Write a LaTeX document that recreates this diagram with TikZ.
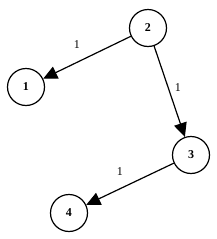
\documentclass[tikz,border=0pt]{standalone}
\usepackage{fontspec}
\setmainfont{Liberation Serif}
\usetikzlibrary{arrows.meta}
\begin{document}
\begin{tikzpicture}[x=1pt,y=-1pt,
  vertex/.style={draw,circle,line width=1.2pt,minimum size=37pt,inner sep=0pt,font=\bfseries\fontsize{12}{12}\selectfont},
  edge/.style={line width=1.2pt,-{Triangle[length=14pt,width=13pt]}},
  wlabel/.style={font=\fontsize{12}{12}\selectfont}]
\useasboundingbox (0,0) rectangle (217,239);
\node[vertex] (n2) at (148,28) {2};
\node[vertex] (n1) at (26,87) {1};
\node[vertex] (n3) at (191,155) {3};
\node[vertex] (n4) at (69,213) {4};
\draw[edge] (n2) -- (n1);
\draw[edge] (n2) -- (n3);
\draw[edge] (n3) -- (n4);
\node[wlabel] (l1) at (77,45) {1};
\node[wlabel] (l2) at (178,88) {1};
\node[wlabel] (l3) at (120,172) {1};
\end{tikzpicture}
\end{document}
